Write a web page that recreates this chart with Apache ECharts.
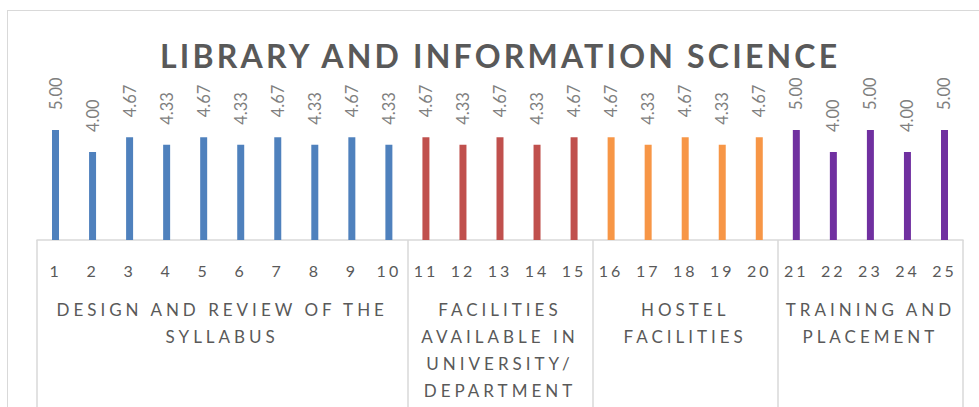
<!DOCTYPE html>
<html>
<head>
<meta charset="utf-8">
<script src="https://cdn.jsdelivr.net/npm/echarts@6/dist/echarts.min.js"></script>
<style>
  body { margin: 0; overflow: hidden; background: #fff; }
  #frame {
    position: absolute; left: 7px; top: 10px; width: 1000px; height: 500px;
    border: 1.5px solid #d9d9d9; box-sizing: border-box; pointer-events: none;
  }
  #chart { position: absolute; left: 0; top: 0; width: 979px; height: 407px; }
  /* Excel-style expanded character spacing */
  #chart text[style*="32px"] { letter-spacing: 3.2px; }
  #chart text[style*="16px"] { letter-spacing: 3px; }
  #chart text[style*="17px"] { letter-spacing: 4px; }
</style>
</head>
<body>
<div id="frame"></div>
<div id="chart"></div>
<script>
const items = ["1","2","3","4","5","6","7","8","9","10","11","12","13","14","15","16","17","18","19","20","21","22","23","24","25"];
const scores = [5.00, 4.00, 4.67, 4.33, 4.67, 4.33, 4.67, 4.33, 4.67, 4.33,
                4.67, 4.33, 4.67, 4.33, 4.67,
                4.67, 4.33, 4.67, 4.33, 4.67,
                5.00, 4.00, 5.00, 4.00, 5.00];
const groupNames = [
  "DESIGN AND REVIEW OF THE\nSYLLABUS",
  "FACILITIES\nAVAILABLE IN\nUNIVERSITY/\nDEPARTMENT",
  "HOSTEL\nFACILITIES",
  "TRAINING AND\nPLACEMENT"
];
const groupSizes = [10, 5, 5, 5];
const groupColors = ["#4f81bd", "#c0504d", "#f79646", "#7030a0"];

// group of each item
const itemGroup = [];
groupSizes.forEach((n, g) => { for (let i = 0; i < n; i++) itemGroup.push(g); });

// half-step axis: 2 slots per item, boundaryGap false -> 51 points
const halfData = [];
for (let i = 0; i <= items.length * 2; i++) halfData.push("h" + i);
const boundaries = [0];
const centers = [];
const labelAt = {};
let pos = 0;
groupSizes.forEach((n, g) => {
  const c = pos * 2 + n;
  centers.push(c);
  labelAt[c] = groupNames[g];
  pos += n;
  boundaries.push(pos * 2);
});

const chart = echarts.init(document.getElementById("chart"), null, { renderer: "svg" });
chart.setOption({
  animation: false,
  title: {
    text: "LIBRARY AND INFORMATION SCIENCE",
    left: 155,
    top: 34,
    textStyle: { fontFamily: "Lato", fontSize: 32, fontWeight: "bold", color: "#595959" }
  },
  grid: { left: 37, right: 16, top: 20, bottom: 167 },
  xAxis: [
    {
      type: "category",
      data: items,
      position: "bottom",
      axisLine: { lineStyle: { color: "#d9d9d9", width: 1.5 } },
      axisTick: { show: false },
      axisLabel: { interval: 0, margin: 22, fontFamily: "Lato", fontSize: 16, color: "#595959" }
    },
    {
      type: "category",
      data: halfData,
      boundaryGap: false,
      position: "bottom",
      axisLine: { show: false },
      axisTick: {
        show: true,
        length: 180,
        interval: (i) => boundaries.indexOf(i) >= 0,
        lineStyle: { color: "#d9d9d9", width: 1.5 }
      },
      axisLabel: {
        interval: (i) => centers.indexOf(i) >= 0,
        formatter: (v, i) => labelAt[i] || "",
        margin: 56,
        fontFamily: "Lato",
        fontSize: 17,
        lineHeight: 27,
        color: "#595959",
        align: "center"
      }
    }
  ],
  yAxis: { type: "value", min: 0, max: 10, show: false },
  series: [
    {
      type: "bar",
      xAxisIndex: 0,
      barWidth: 7,
      data: scores,
      itemStyle: { color: (p) => groupColors[itemGroup[p.dataIndex]] },
      label: {
        show: true,
        position: "top",
        rotate: 90,
        align: "left",
        verticalAlign: "middle",
        distance: 20,
        fontFamily: "Lato",
        fontSize: 16.5,
        color: "#7f7f7f",
        formatter: (p) => p.value.toFixed(2)
      }
    }
  ]
});
</script>
</body>
</html>
